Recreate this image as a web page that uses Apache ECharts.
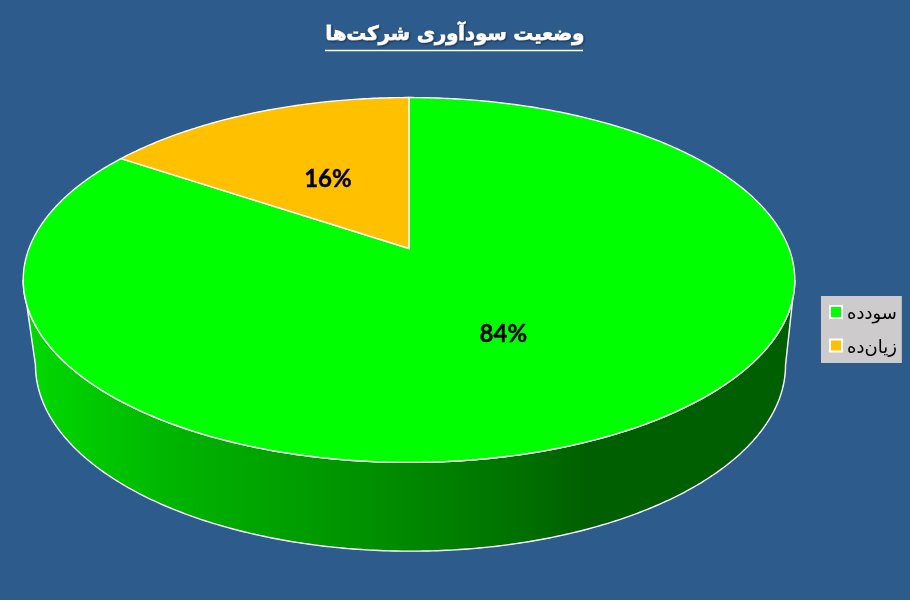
<!DOCTYPE html>
<html>
<head>
<meta charset="utf-8">
<style>html,body{margin:0;padding:0;background:#fff}#c{width:910px;height:600px}</style>
<script src="https://cdn.jsdelivr.net/npm/echarts@6/dist/echarts.min.js"></script>
</head>
<body>
<div id="c"></div>
<script>
const titleText = 'وضعیت سودآوری شرکت‌ها';
const categories = ['سودده', 'زیان‌ده'];
const values = [84.4, 15.6];
const palette = ['#00ff00', '#ffc000'];

const total = values.reduce((a, b) => a + b, 0);
// Slices start at 12 o'clock and run clockwise.
const startFractions = values.map((_, i) => values.slice(0, i).reduce((a, b) => a + b, 0) / total);

// Perspective disc: the two planes of the tilted cylinder.
const tilt = 0.1726;
const topPlane = { cx: 409, cy: 248.5, a: 380, b: 177 };
const bottomPlane = { cx: 410.5, cy: 333, a: 369.4, b: 180.5 };
const labelNudge = [[-2.5, 1.5], [2, 3]];

function project(plane, angle, r) {
  const u = Math.sin(angle) * r, v = Math.cos(angle) * r, w = 1 + tilt * v;
  return [plane.cx + plane.a * u / w, plane.cy - plane.b * v / w];
}
function arc(plane, a0, a1) {
  const n = Math.max(2, Math.ceil(Math.abs(a1 - a0) / 0.01)), pts = [];
  for (let i = 0; i <= n; i++) pts.push(project(plane, a0 + (a1 - a0) * i / n, 1));
  return pts;
}
const wallFrom = Math.acos(-tilt), wallTo = 2 * Math.PI - wallFrom;
const wallFill = {
  type: 'linear', x: 34, y: 0, x2: 784, y2: 0, global: true,
  colorStops: [
    { offset: 0, color: '#00d800' }, { offset: 0.188, color: '#00b400' },
    { offset: 0.487, color: '#008a00' }, { offset: 0.661, color: '#006e00' },
    { offset: 0.741, color: '#005f00' }, { offset: 1, color: '#005f00' }
  ]
};

function renderSlice(params) {
  const i = params.seriesIndex;
  const a0 = startFractions[i] * 2 * Math.PI;
  const a1 = a0 + values[i] / total * 2 * Math.PI;
  const children = [];
  const w0 = Math.max(a0, wallFrom), w1 = Math.min(a1, wallTo);
  if (w1 > w0) {
    children.push({
      type: 'polygon',
      shape: { points: arc(topPlane, w0, w1).concat(arc(bottomPlane, w1, w0)) },
      style: { fill: wallFill, stroke: '#fff', lineWidth: 1.4 }
    });
  }
  children.push({
    type: 'polygon',
    shape: { points: [[topPlane.cx, topPlane.cy]].concat(arc(topPlane, a0, a1)) },
    style: { fill: palette[i], stroke: '#fff', lineWidth: 1.4 }
  });
  const mid = project(topPlane, (a0 + a1) / 2, 0.5);
  children.push({
    type: 'text',
    style: {
      x: mid[0] + labelNudge[i][0], y: mid[1] + labelNudge[i][1],
      text: Math.round(values[i] / total * 100) + '%',
      align: 'center', verticalAlign: 'middle',
      font: 'bold 24px Lato', fill: '#000', stroke: '#000', lineWidth: 0.4
    }
  });
  return { type: 'group', children };
}

const chart = echarts.init(document.getElementById('c'), null, { renderer: 'canvas' });
chart.setOption({
  animation: false,
  backgroundColor: '#2c5b8c',
  title: {
    text: titleText, left: 450, top: 20, textAlign: 'center',
    textStyle: { color: '#fff', fontFamily: 'DejaVu Sans', fontWeight: 'bold', fontSize: 19.6,
      textBorderColor: '#fff', textBorderWidth: 1,
      textShadowColor: 'rgba(0,0,0,0.35)', textShadowBlur: 2, textShadowOffsetX: 1, textShadowOffsetY: 1 }
  },
  legend: {
    orient: 'vertical', left: 821, top: 296, width: 81, padding: [9, 5, 6, 8], itemGap: 15,
    backgroundColor: '#cdcbcb', icon: 'rect', itemWidth: 12, itemHeight: 12,
    itemStyle: { borderColor: '#fff', borderWidth: 2 },
    data: categories,
    formatter: name => '{t|' + name + '}',
    textStyle: { color: '#000', rich: { t: { color: '#000', fontFamily: 'DejaVu Sans', fontSize: 18, padding: [5, 0, 0, 0] } } }
  },
  graphic: [{
    type: 'line', silent: true,
    shape: { x1: 325, y1: 50.5, x2: 583, y2: 50.5 },
    style: { stroke: '#fff', lineWidth: 1.5 }
  }],
  series: categories.map((name, i) => ({
    type: 'custom', name, coordinateSystem: 'none',
    renderItem: renderSlice, data: [[values[i]]], clip: false,
    itemStyle: { color: palette[i] }
  }))
});
</script>
</body>
</html>
